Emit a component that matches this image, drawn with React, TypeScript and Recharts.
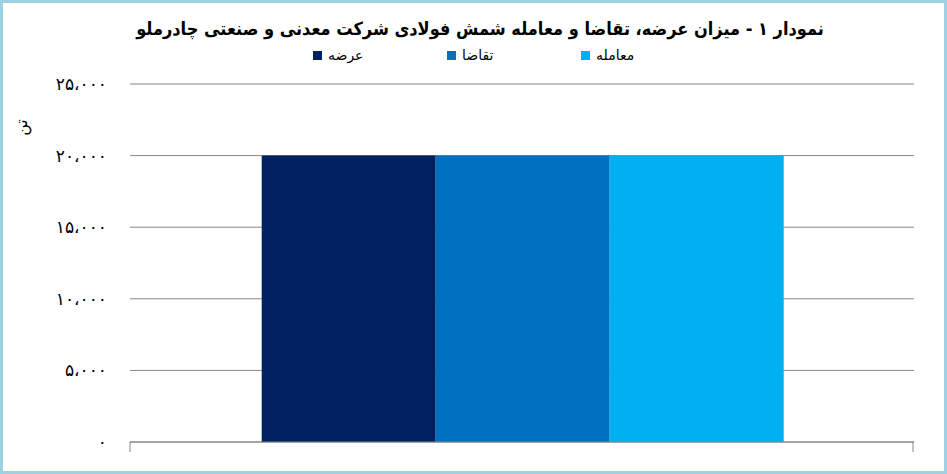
import React from "react";
import {
  BarChart, Bar, XAxis, YAxis, CartesianGrid, Legend,
} from "recharts";

// داده‌ها — یک دسته، سه سری
const categories = [""];
const supply = [20000]; // عرضه
const demand = [20000]; // تقاضا
const deals = [20000]; // معامله
const yTicks = [0, 5000, 10000, 15000, 20000, 25000];

const seriesNames = ["عرضه", "تقاضا", "معامله"];
const COLORS = ["#002060", "#0070C0", "#00B0F0"];

const data = categories.map((c, i) => ({
  name: c,
  s: supply[i],
  d: demand[i],
  m: deals[i],
}));

if (typeof document !== "undefined") document.body.style.margin = "0";

// ارقام فارسی با جداکننده «،»
function faNum(v: number): string {
  const s = v.toLocaleString("en-US").replace(/,/g, "،");
  return s.replace(/[0-9]/g, (d) => "۰۱۲۳۴۵۶۷۸۹"[Number(d)]);
}

const FONT = "'DejaVu Sans', sans-serif";

function BoundaryTicks(props: any) {
  const { x, y, width } = props;
  const half = width / 2;
  return (
    <g stroke="#868686" strokeWidth={1}>
      <line x1={x - half} y1={y - 8} x2={x - half} y2={y + 2} />
      <line x1={x + half - 1} y1={y - 8} x2={x + half - 1} y2={y + 2} />
    </g>
  );
}

function LegendContent({ payload }: any) {
  // ترتیب سری‌ها همان ترتیب رسم
  const items = [...(payload || [])].sort(
    (a: any, b: any) => seriesNames.indexOf(a.value) - seriesNames.indexOf(b.value),
  );
  return (
    <div style={{ display: "flex", fontFamily: FONT, fontSize: 14, color: "#000" }}>
      {items.map((p: any, i: number) => (
        <div key={i} style={{ width: 134, display: "flex", alignItems: "center" }}>
          <span style={{ width: 9, height: 9, background: p.color, display: "inline-block", marginRight: 6 }} />
          <span>{p.value}</span>
        </div>
      ))}
    </div>
  );
}

export default function App() {
  return (
    <div style={{ position: "relative", width: 947, height: 474, background: "#fff", overflow: "hidden" }}>
      <div
        style={{
          position: "absolute", left: 0, top: 18, width: 960, textAlign: "center",
          fontFamily: "'DejaVu Sans Condensed', 'DejaVu Sans', sans-serif", fontWeight: "bold",
          fontSize: 18, direction: "rtl", color: "#000",
        }}
      >
        نمودار ۱ - میزان عرضه، تقاضا و معامله شمش فولادی شرکت معدنی و صنعتی چادرملو
      </div>
      <div
        style={{
          position: "absolute", left: 13, top: 118, fontFamily: FONT, fontSize: 16,
          transform: "rotate(-90deg)", transformOrigin: "center", color: "#000",
        }}
      >
        تن
      </div>
      <BarChart
        width={947}
        height={474}
        data={data}
        margin={{ top: 84, right: 33, left: 30, bottom: 12 }}
        barCategoryGap="16.8%"
        barGap={0}
      >
        <CartesianGrid vertical={false} stroke="#868686" />
        <XAxis
          dataKey="name"
          height={20}
          axisLine={{ stroke: "#868686" }}
          tickLine={false}
          tick={<BoundaryTicks />}
          interval={0}
        />
        <YAxis
          width={100}
          domain={[0, 25000]}
          ticks={yTicks}
          axisLine={false}
          tickLine={false}
          tickMargin={17}
          tickFormatter={faNum}
          tick={{ fontSize: 17, fill: "#000", fontFamily: FONT }}
        />
        <Legend
          verticalAlign="middle"
          layout="horizontal"
          wrapperStyle={{ top: 47, left: 313, width: 420 }}
          content={<LegendContent />}
        />
        <Bar dataKey="s" name={seriesNames[0]} fill={COLORS[0]} isAnimationActive={false} />
        <Bar dataKey="d" name={seriesNames[1]} fill={COLORS[1]} isAnimationActive={false} />
        <Bar dataKey="m" name={seriesNames[2]} fill={COLORS[2]} isAnimationActive={false} />
      </BarChart>
      <div
        style={{
          position: "absolute", inset: 0, border: "3px solid #9ED0E2",
          boxSizing: "border-box", pointerEvents: "none",
        }}
      />
    </div>
  );
}
